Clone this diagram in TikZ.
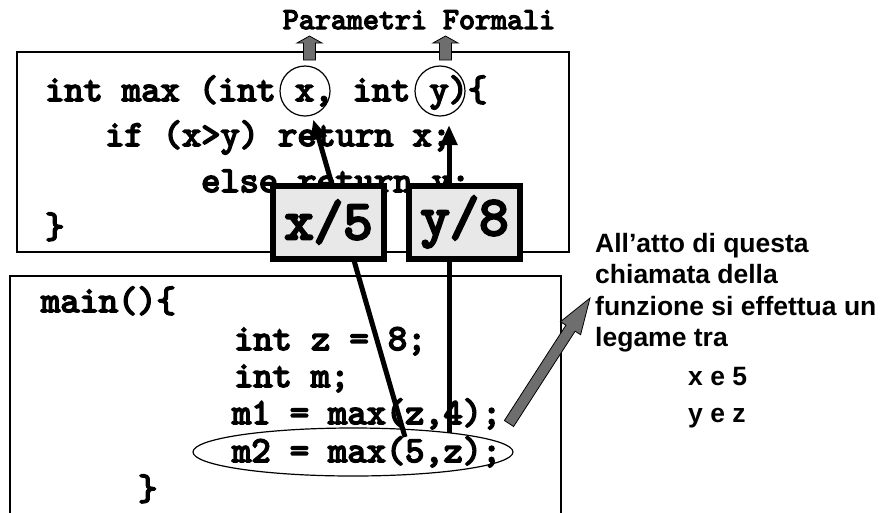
\documentclass[tikz,border=0pt]{standalone}
\usepackage{fontspec}
\setsansfont{Liberation Sans}
\newfontfamily\codefont{lmmono10-regular.otf}[FakeBold=4.5]
\usetikzlibrary{arrows.meta,calc,shapes.geometric}

\definecolor{boxgray}{RGB}{232,232,232}
\definecolor{arrowgray}{RGB}{110,110,110}

\tikzset{
  code/.style={font=\codefont\fontsize{36.6}{40}\selectfont, anchor=base west, inner sep=0pt},
  ptitle/.style={font=\codefont\fontsize{30.5}{34}\selectfont, anchor=base, inner sep=0pt},
  frame/.style={draw, line width=1.5pt},
  param/.style={circle, draw, line width=1.2pt, minimum size=50pt, inner sep=0pt},
  callring/.style={ellipse, draw, line width=1.2pt, minimum width=320pt, minimum height=48pt, inner sep=0pt},
  valbox/.style={draw, line width=6pt, fill=boxgray, minimum width=111pt, minimum height=73pt,
                 inner sep=0pt, font=\codefont\fontsize{56}{60}\selectfont},
  link/.style={line width=5pt, -{Triangle[length=20pt,width=16pt]}},
  garrow/.style={fill=arrowgray, draw=black, line width=0.8pt, line join=miter},
  note/.style={font=\sffamily\bfseries\fontsize{26.5}{30}\selectfont, anchor=base west, inner sep=0pt}
}

\begin{document}
\begin{tikzpicture}[x=1pt,y=-1pt]
\useasboundingbox (0,0) rectangle (882,512);

% function body and caller frames
\draw[frame] (17,52) rectangle (569,252);
\draw[frame] (10,514) -- (10,276) -- (561,276) -- (561,514);

% code of the function max
\node[code] (l1) at (45,101) {int max (int x, int y)\{};
\node[code] (l2) at (105,146) {if (x>y) return x;};
\node[code] (l3) at (201,192) {else return y;};
\node[code] (l4) at (45,238) {\}};

% code of main
\node[code] (m0) at (41,312) {main()\{};
\node[code] (m1) at (234,350) {int z = 8;};
\node[code] (m2) at (234,387) {int m;};
\node[code] (m3) at (232,424) {m1 = max(z,4);};
\node[code] (m4) at (232,462) {m2 = max(5,z);};
\node[code] (m5) at (138,500) {\}};

% formal parameters and the call
\node[param] (fx) at (305,91) {};
\node[param] (fy) at (440,91) {};
\node[callring] (call) at (353,452) {};

% actual-to-formal bindings
\coordinate (sx) at (405,437);
\coordinate (sy) at (449,433);
\coordinate (ty) at (449,125);
\draw[link, shorten >=4pt] (sx) -- (fx);
\draw[link] (sy) -- (ty);

% binding boxes
\node[valbox] (bx) at (328.5,222) {x/5};
\node[valbox] (by) at (464.5,222) {y/8};

% title with its two up arrows
\node[ptitle] (title) at (419,29) {Parametri Formali};
\foreach \cx in {309.5,445.5}{
  \draw[garrow] (\cx-6,60) -- (\cx-6,43) -- (\cx-12.5,43) -- (\cx,36)
      -- (\cx+12.5,43) -- (\cx+6,43) -- (\cx+6,60) -- cycle;
}

% pointer from the call to the explanation
\draw[garrow] (513.6,426.5) -- (575.1,331.2) -- (580.6,334.7) -- (590,298)
  -- (560.4,321.7) -- (565.9,325.2) -- (504.4,420.5) -- cycle;

% explanation
\node[note] (n1) at (595,252) {All’atto di questa};
\node[note] (n2) at (595,283) {chiamata della};
\node[note] (n3) at (595,315) {funzione si effettua un};
\node[note] (n4) at (595,346) {legame tra};
\node[note] (n5) at (688,385) {x e 5};
\node[note] (n6) at (688,422) {y e z};
\end{tikzpicture}
\end{document}
